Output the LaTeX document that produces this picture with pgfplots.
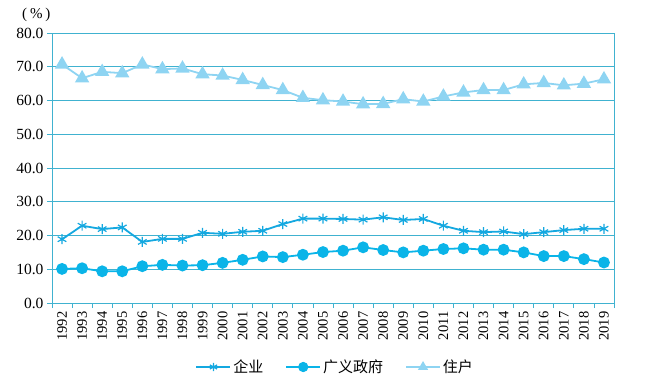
\documentclass[border=0pt]{standalone}
\usepackage{fontspec}
\setmainfont{Liberation Serif}
\newfontfamily\cjk{Noto Sans CJK SC}
\usepackage{pgfplots}
\pgfplotsset{compat=1.18}
\definecolor{ent}{RGB}{20,168,224}
\definecolor{gov}{RGB}{10,180,232}
\definecolor{hh}{RGB}{142,212,242}
\definecolor{ax}{RGB}{64,178,208}
\begin{document}
\begin{tikzpicture}
\useasboundingbox (0,0) rectangle (647pt,384pt);
\begin{axis}[
  at={(52pt,81pt)}, anchor=south west,
  scale only axis, width=562pt, height=270pt,
  xmin=1991.5, xmax=2019.5, ymin=0, ymax=80,
  xtick={1992,...,2019},
  minor xtick={1991.5,1992.5,...,2019.5},
  ytick={0,10,...,80},
  xtick pos=bottom, ytick pos=left,
  major x tick style={draw=none},
  minor tick length=5pt, major tick length=5pt,
  tick align=outside,
  tick style={ax, line width=0.8pt},
  axis line style={ax, line width=1pt},
  ymajorgrids, grid style={ax, line width=1pt},
  xticklabel style={rotate=90, anchor=east, font=\fontsize{14.5}{16}\selectfont},
  yticklabel style={font=\fontsize{15.5}{17}\selectfont},
  /pgf/number format/assume math mode=true,
  x tick label style={/pgf/number format/1000 sep={}},
  y tick label style={/pgf/number format/.cd, fixed, fixed zerofill, precision=1},
  legend columns=3,
  legend style={at={(0.504,-0.237)}, anchor=center, draw=none, fill=none,
    font=\cjk\fontsize{15}{17}\selectfont,
    /tikz/every even column/.append style={column sep=20pt}},
  legend image code/.code={\draw[mark repeat=2,mark phase=2] plot coordinates {(0pt,0pt) (17pt,0pt) (34pt,0pt)};},
  legend image post style={mark size=4.2pt},
  clip=false,
]
\addplot[ent, line width=1.8pt, mark=asterisk, mark size=5pt, mark options={line width=1.2pt}] coordinates {
(1992,18.9)(1993,22.9)(1994,21.9)(1995,22.4)(1996,18.1)(1997,19.0)(1998,19.0)(1999,20.8)(2000,20.5)(2001,21.1)(2002,21.4)(2003,23.4)(2004,25.0)(2005,25.0)(2006,24.9)(2007,24.7)(2008,25.4)(2009,24.6)(2010,24.9)(2011,22.9)(2012,21.4)(2013,21.0)(2014,21.2)(2015,20.4)(2016,21.0)(2017,21.6)(2018,22.0)(2019,22.0)};
\addlegendentry{企业}
\addplot[gov, line width=1.8pt, mark=*, mark size=5pt, mark options={fill=gov, draw=gov}] coordinates {
(1992,10.1)(1993,10.3)(1994,9.4)(1995,9.4)(1996,10.9)(1997,11.3)(1998,11.1)(1999,11.2)(2000,11.9)(2001,12.8)(2002,13.8)(2003,13.6)(2004,14.3)(2005,15.1)(2006,15.5)(2007,16.5)(2008,15.7)(2009,15.0)(2010,15.5)(2011,16.0)(2012,16.2)(2013,15.8)(2014,15.8)(2015,15.0)(2016,13.9)(2017,13.9)(2018,13.0)(2019,12.0)};
\addlegendentry{广义政府}
\addplot[hh, line width=1.8pt, mark=triangle*, mark size=6.5pt, mark options={fill=hh, draw=hh}] coordinates {
(1992,70.7)(1993,66.6)(1994,68.5)(1995,68.1)(1996,70.7)(1997,69.3)(1998,69.5)(1999,67.8)(2000,67.4)(2001,66.1)(2002,64.6)(2003,63.1)(2004,60.8)(2005,60.1)(2006,59.7)(2007,58.9)(2008,59.0)(2009,60.4)(2010,59.7)(2011,61.2)(2012,62.4)(2013,63.1)(2014,63.1)(2015,64.8)(2016,65.2)(2017,64.5)(2018,65.0)(2019,66.3)};
\addlegendentry{住户}
\node[anchor=center, inner sep=0pt, font=\fontsize{15}{17}\selectfont] at (rel axis cs:-0.028,1.068) {(\hspace{3pt}\%\hspace{3pt})};
\end{axis}
\end{tikzpicture}
\end{document}
